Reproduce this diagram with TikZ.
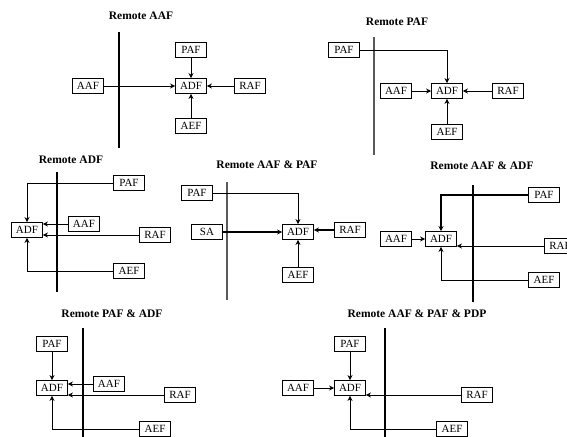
\documentclass[tikz,border=0pt]{standalone}
\usepackage{fontspec}
\setmainfont{Liberation Serif}
\usetikzlibrary{arrows.meta,positioning}

\begin{document}
\begin{tikzpicture}[x=1pt, y=-1pt,
  fbox/.style={rectangle, draw, line width=0.9pt, minimum width=31pt,
    minimum height=15pt, inner sep=1pt, font=\fontsize{11}{12}\selectfont},
  title/.style={font=\fontsize{11.5}{13}\selectfont\bfseries},
  wall/.style={line width=2.6pt},
  arrow/.style={-{Stealth[length=5pt,width=5pt]}, line width=0.7pt},
]
\clip (0,0) rectangle (567,436);

% Remote AAF
\node[title] (t1) at (141,16) {Remote AAF};
\node[fbox] (aaf1) at (88,86) {AAF};
\node[fbox] (adf1) at (191,86) {ADF};
\node[fbox] (paf1) at (191,50) {PAF};
\node[fbox] (raf1) at (250,86) {RAF};
\node[fbox] (aef1) at (191,126) {AEF};
\coordinate (w1a) at (119,32);
\coordinate (w1b) at (119,148);
\draw[wall] (w1a) -- (w1b);
\foreach \i in {aaf1, paf1, raf1, aef1} {
  \draw[arrow] (\i) -- (adf1);
}

% Remote PAF
\node[title] (t2) at (397,22) {Remote PAF};
\node[fbox] (paf2) at (344,50) {PAF};
\node[fbox] (aaf2) at (396,91) {AAF};
\node[fbox] (adf2) at (447,91) {ADF};
\node[fbox] (raf2) at (508,91) {RAF};
\node[fbox] (aef2) at (447,132) {AEF};
\coordinate (w2a) at (374,37);
\coordinate (w2b) at (374,155);
\draw[wall, black!65] (w2a) -- (w2b);
\draw[arrow] (paf2.east) -| (adf2.north);
\foreach \i in {aaf2, raf2, aef2} {
  \draw[arrow] (\i) -- (adf2);
}

% Remote ADF
\node[title] (t3) at (71,160) {Remote ADF};
\node[fbox] (adf3) at (27,230) {ADF};
\node[fbox] (paf3) at (129,183) {PAF};
\node[fbox] (aaf3) at (84,224) {AAF};
\node[fbox] (raf3) at (155,235) {RAF};
\node[fbox] (aef3) at (129,271) {AEF};
\coordinate (w3a) at (57,172);
\coordinate (w3b) at (57,292);
\draw[wall] (w3a) -- (w3b);
\draw[arrow] (paf3.west) -| (adf3.north);
\draw[arrow] (aef3.west) -| (adf3.south);
\foreach \i in {aaf3, raf3} {
  \draw[arrow] (\i.west) -- (\i.west -| adf3.east);
}

% Remote AAF & PAF
\node[title] (t4) at (267,165) {Remote AAF \& PAF};
\node[fbox] (paf4) at (197,193) {PAF};
\node[fbox] (sa4) at (207,232) {SA};
\node[fbox] (adf4) at (298,232) {ADF};
\node[fbox] (raf4) at (350,230) {RAF};
\node[fbox] (aef4) at (298,275) {AEF};
\coordinate (w4a) at (227,182);
\coordinate (w4b) at (227,300);
\draw[wall, black!65] (w4a) -- (w4b);
\draw[arrow] (paf4.east) -| (adf4.north);
\draw[arrow, line width=1.3pt] (sa4) -- (adf4);
\draw[arrow, line width=1.3pt] (raf4.west) -- (raf4.west -| adf4.east);
\draw[arrow] (aef4) -- (adf4);

% Remote AAF & ADF
\node[title] (t5) at (482,166) {Remote AAF \& ADF};
\node[fbox] (paf5) at (544,195) {PAF};
\node[fbox] (aaf5) at (396,239) {AAF};
\node[fbox] (adf5) at (441,239) {ADF};
\node[fbox] (raf5) at (560,246) {RAF};
\node[fbox] (aef5) at (544,280) {AEF};
\coordinate (w5a) at (473,185);
\coordinate (w5b) at (473,302);
\draw[wall] (w5a) -- (w5b);
\draw[arrow, line width=1.1pt] (paf5.west) -| (adf5.north);
\draw[arrow] (aaf5) -- (adf5);
\draw[arrow] (raf5.west) -- (raf5.west -| adf5.east);
\draw[arrow] (aef5.west) -| (adf5.south);

% Remote PAF & ADF
\node[title] (t6) at (112,314) {Remote PAF \& ADF};
\node[fbox] (paf6) at (52,344) {PAF};
\node[fbox] (adf6) at (52,388) {ADF};
\node[fbox] (aaf6) at (109,384) {AAF};
\node[fbox] (raf6) at (180,395) {RAF};
\node[fbox] (aef6) at (155,429) {AEF};
\coordinate (w6a) at (83,328);
\coordinate (w6b) at (83,440);
\draw[wall] (w6a) -- (w6b);
\draw[arrow] (paf6) -- (adf6);
\draw[arrow] (aef6.west) -| (adf6.south);
\foreach \i in {aaf6, raf6} {
  \draw[arrow] (\i.west) -- (\i.west -| adf6.east);
}

% Remote AAF & PAF & PDP
\node[title] (t7) at (417,314) {Remote AAF \& PAF \& PDP};
\node[fbox] (paf7) at (350,344) {PAF};
\node[fbox] (adf7) at (350,388) {ADF};
\node[fbox] (aaf7) at (298,388) {AAF};
\node[fbox] (raf7) at (477,395) {RAF};
\node[fbox] (aef7) at (452,429) {AEF};
\coordinate (w7a) at (385,328);
\coordinate (w7b) at (385,440);
\draw[wall] (w7a) -- (w7b);
\draw[arrow] (paf7) -- (adf7);
\draw[arrow] (aaf7) -- (adf7);
\draw[arrow] (raf7.west) -- (raf7.west -| adf7.east);
\draw[arrow] (aef7.west) -| (adf7.south);

\end{tikzpicture}
\end{document}
